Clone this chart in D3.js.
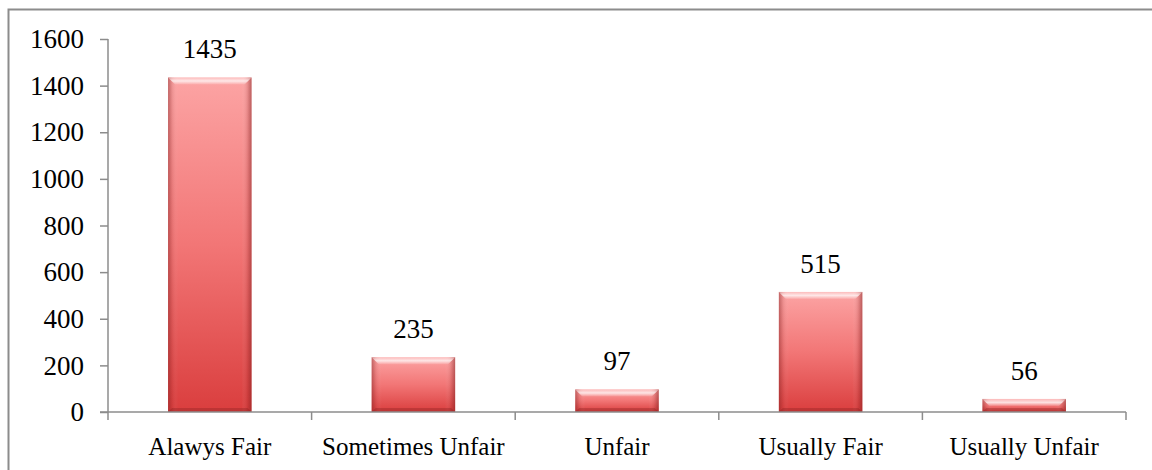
<!DOCTYPE html>
<html><head><meta charset="utf-8">
<script src="https://cdn.jsdelivr.net/npm/d3@7"></script>
<style>html,body{margin:0;padding:0;background:#fff;} svg{display:block;}</style>
</head><body>
<svg id="chart" width="1152" height="470"></svg>
<script>
const categories = ["Alawys Fair", "Sometimes Unfair", "Unfair", "Usually Fair", "Usually Unfair"];
const values = [1435, 235, 97, 515, 56];
const yTicks = [0, 200, 400, 600, 800, 1000, 1200, 1400, 1600];

const svg = d3.select("#chart");
const font = "'Liberation Serif', 'Times New Roman', serif";
const plot = {left: 108, right: 1126, top: 39, bottom: 412};

svg.append("rect").attr("x", 8.5).attr("y", 9.5).attr("width", 1160).attr("height", 480)
  .attr("fill", "none").attr("stroke", "#8c8c8c").attr("stroke-width", 2);

const x = d3.scaleBand().domain(categories).range([plot.left, plot.right]).paddingInner(0.59).paddingOuter(0.295);
const x0 = d3.scaleBand().domain(categories).range([plot.left, plot.right]);
const y = d3.scaleLinear().domain([0, 1600]).range([plot.bottom, plot.top]);

const defs = svg.append("defs");
const g1 = defs.append("linearGradient").attr("id", "barFill").attr("x1", 0).attr("y1", 0).attr("x2", 0).attr("y2", 1);
g1.append("stop").attr("offset", "0%").attr("stop-color", "#fca4a4");
g1.append("stop").attr("offset", "50%").attr("stop-color", "#f27676");
g1.append("stop").attr("offset", "100%").attr("stop-color", "#da3e3e");
const g2 = defs.append("linearGradient").attr("id", "sideShade").attr("x1", 0).attr("y1", 0).attr("x2", 1).attr("y2", 0);
g2.append("stop").attr("offset", "0%").attr("stop-color", "#7a1a1a").attr("stop-opacity", 0.45);
g2.append("stop").attr("offset", "5%").attr("stop-color", "#7a1a1a").attr("stop-opacity", 0.12);
g2.append("stop").attr("offset", "12%").attr("stop-color", "#ffffff").attr("stop-opacity", 0.0);
g2.append("stop").attr("offset", "88%").attr("stop-color", "#ffffff").attr("stop-opacity", 0.0);
g2.append("stop").attr("offset", "95%").attr("stop-color", "#7a1a1a").attr("stop-opacity", 0.15);
g2.append("stop").attr("offset", "100%").attr("stop-color", "#7a1a1a").attr("stop-opacity", 0.5);
const g3 = defs.append("linearGradient").attr("id", "topBevel").attr("x1", 0).attr("y1", 0).attr("x2", 0).attr("y2", 1);
g3.append("stop").attr("offset", "0%").attr("stop-color", "#ffffff").attr("stop-opacity", 0.25);
g3.append("stop").attr("offset", "50%").attr("stop-color", "#ffffff").attr("stop-opacity", 0.75);
g3.append("stop").attr("offset", "100%").attr("stop-color", "#ffffff").attr("stop-opacity", 0.1);

const axisColor = "#8c8c8c";
const yAxis = svg.append("g").attr("transform", `translate(${plot.left},0)`)
  .call(d3.axisLeft(y).tickValues(yTicks).tickSize(8).tickPadding(16).tickFormat(d3.format("d")));
yAxis.select(".domain").attr("stroke", axisColor).attr("stroke-width", 1.5).attr("d", `M0,${plot.top}V${plot.bottom}`);
yAxis.selectAll(".tick line").attr("stroke", axisColor).attr("stroke-width", 1.5);
yAxis.selectAll(".tick text").attr("font-family", font).attr("font-size", 27).attr("fill", "#000");

const bars = svg.append("g").selectAll("g").data(values).join("g");
const bx = (d, i) => x(categories[i]);
bars.append("rect").attr("x", bx).attr("y", d => y(d)).attr("width", x.bandwidth())
  .attr("height", d => y(0) - y(d)).attr("fill", "url(#barFill)");
bars.append("rect").attr("x", bx).attr("y", d => y(d)).attr("width", x.bandwidth())
  .attr("height", d => y(0) - y(d)).attr("fill", "url(#sideShade)");
bars.append("path").attr("d", (d, i) => {
  const l = bx(d, i), r = l + x.bandwidth(), t = y(d), b = 7;
  return `M${l},${t}L${r},${t}L${r - b},${t + b}L${l + b},${t + b}Z`;
}).attr("fill", "url(#topBevel)");
bars.append("path").attr("d", (d, i) => {
  const l = bx(d, i), r = l + x.bandwidth(), bt = y(0), b = 4;
  return `M${l},${bt}L${r},${bt}L${r - b},${bt - b}L${l + b},${bt - b}Z`;
}).attr("fill", "#7a1a1a").attr("opacity", 0.3);

const xAxis = svg.append("g").attr("transform", `translate(0,${plot.bottom})`);
xAxis.append("line").attr("x1", plot.left - 8).attr("x2", plot.right).attr("stroke", axisColor).attr("stroke-width", 1.5);
const bounds = categories.map(c => x0(c)).concat([plot.right]);
xAxis.selectAll("line.tk").data(bounds).join("line").attr("class", "tk")
  .attr("x1", d => d).attr("x2", d => d).attr("y1", 0).attr("y2", 8).attr("stroke", axisColor).attr("stroke-width", 1.5);
xAxis.selectAll("text").data(categories).join("text")
  .attr("x", d => x0(d) + x0.bandwidth() / 2).attr("y", 43)
  .attr("text-anchor", "middle").attr("font-family", font).attr("font-size", 25).attr("fill", "#000").text(d => d);

bars.append("text").attr("x", (d, i) => bx(d, i) + x.bandwidth() / 2).attr("y", d => y(d) - 19)
  .attr("text-anchor", "middle").attr("font-family", font).attr("font-size", 27).attr("fill", "#000").text(d => d);
</script>
</body></html>
